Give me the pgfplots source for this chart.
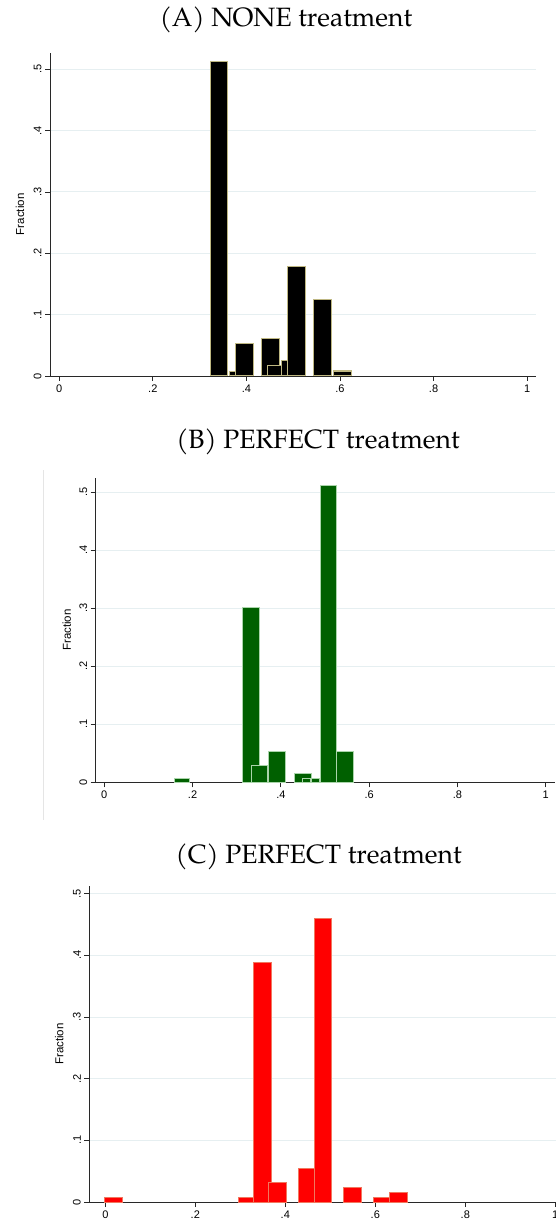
\documentclass[border=0pt]{standalone}
\usepackage{pgfplots}
\pgfplotsset{compat=1.18}
\usepackage{fontspec}
\newfontfamily\arialf{Liberation Sans}
\newfontfamily\palf{TeX Gyre Pagella}
\definecolor{gridc}{RGB}{230,239,241}
\definecolor{axc}{RGB}{40,40,40}
\definecolor{aedge}{RGB}{190,183,130}
\definecolor{bfill}{RGB}{0,96,0}
\definecolor{bedge}{RGB}{170,212,170}
\definecolor{cfill}{RGB}{255,0,0}
\definecolor{cedge}{RGB}{240,120,95}
\newcommand{\histbar}[4][]{\addplot[#1] coordinates {(#2,0) (#2,#4) (#3,#4) (#3,0)} -- cycle;}
\pgfplotsset{
  stata/.style={
    scale only axis, anchor=south west,
    axis x line*=bottom, axis y line*=left,
    axis line style={line width=0.9pt, color=axc},
    tick align=outside, major tick length=5pt,
    tick style={line width=0.8pt, color=axc},
    xtick={0,0.2,0.4,0.6,0.8,1}, xticklabels={0,.2,.4,.6,.8,1},
    ytick={0,0.1,0.2,0.3,0.4,0.5}, yticklabels={0,.1,.2,.3,.4,.5},
    ymajorgrids=true,
    major grid style={line width=0.9pt, color=gridc},
    tick label style={font=\arialf\fontsize{11}{13}\selectfont, text=black},
    yticklabel style={rotate=90, anchor=south},
    ylabel={Fraction},
    every axis y label/.style={rotate=90, anchor=center, font=\arialf\fontsize{11.5}{13}\selectfont},
    ymin=0,
  },
  abar/.style={fill=black, draw=aedge, line width=1.2pt},
  bbar/.style={fill=bfill, draw=bedge, line width=1pt},
  cbar/.style={fill=cfill, draw=cedge, line width=1pt},
}
\begin{document}
\begin{tikzpicture}
\useasboundingbox (0pt,0pt) rectangle (556pt,1222pt);
% ---------- (A) ----------
\node[font=\palf\fontsize{26.5}{30}\selectfont] at (286pt,1202pt) {(A) NONE treatment};
\begin{axis}[stata, at={(50pt,846pt)}, width=486pt, height=323.3pt,
  xmin=-0.0197, xmax=1.019, ymax=0.527,
  every axis y label/.append style={at={(axis description cs:-0.0617,0.5)}}]
\histbar[abar]{0.3225}{0.3589}{0.5125}
\histbar[abar]{0.3636}{0.3760}{0.0077}
\histbar[abar]{0.3769}{0.4149}{0.0527}
\histbar[abar]{0.4329}{0.4705}{0.0608}
\histbar[abar]{0.4457}{0.4748}{0.0168}
\histbar[abar]{0.4748}{0.4876}{0.0256}
\histbar[abar]{0.4876}{0.5261}{0.1780}
\histbar[abar]{0.5437}{0.5825}{0.1244}
\histbar[abar]{0.5860}{0.6244}{0.0082}
\end{axis}
% ---------- (B) ----------
\draw[color=black!10, line width=0.6pt] (43.3pt,752pt) -- (43.3pt,402pt);
\node[font=\palf\fontsize{26.5}{30}\selectfont] at (318pt,780.3pt) {(B) PERFECT treatment};
\begin{axis}[stata, at={(95.7pt,439.7pt)}, width=459.2pt, height=304.6pt,
  xmin=-0.0195, xmax=1.021, ymax=0.525,
  every axis y label/.append style={at={(axis description cs:-0.0632,0.5)}}]
\histbar[bbar]{0.158}{0.194}{0.0063}
\histbar[bbar]{0.3139}{0.3506}{0.3020}
\histbar[bbar]{0.3326}{0.3701}{0.0293}
\histbar[bbar]{0.3723}{0.4097}{0.0534}
\histbar[bbar]{0.4308}{0.4690}{0.0145}
\histbar[bbar]{0.4488}{0.4681}{0.0065}
\histbar[bbar]{0.4690}{0.4876}{0.0065}
\histbar[bbar]{0.4891}{0.5258}{0.5110}
\histbar[bbar]{0.5265}{0.5647}{0.0534}
\end{axis}
% ---------- (C) ----------
\node[font=\palf\fontsize{26.5}{30}\selectfont] at (318.7pt,365.3pt) {(C) PERFECT treatment};
\begin{axis}[stata, at={(89.3pt,20pt)}, width=466.7pt, height=316pt,
  xmin=-0.0356, xmax=1.0016, ymax=0.5125,
  every axis y label/.append style={at={(axis description cs:-0.0643,0.5)}}]
\histbar[cbar]{-0.002}{0.0377}{0.0070}
\histbar[cbar]{0.2959}{0.3302}{0.0071}
\histbar[cbar]{0.3302}{0.3688}{0.3880}
\histbar[cbar]{0.3628}{0.4029}{0.0315}
\histbar[cbar]{0.4297}{0.4640}{0.0541}
\histbar[cbar]{0.4640}{0.5032}{0.4595}
\histbar[cbar]{0.5300}{0.5701}{0.0233}
\histbar[cbar]{0.5969}{0.6312}{0.0071}
\histbar[cbar]{0.6312}{0.6705}{0.0152}
\end{axis}
\end{tikzpicture}
\end{document}
